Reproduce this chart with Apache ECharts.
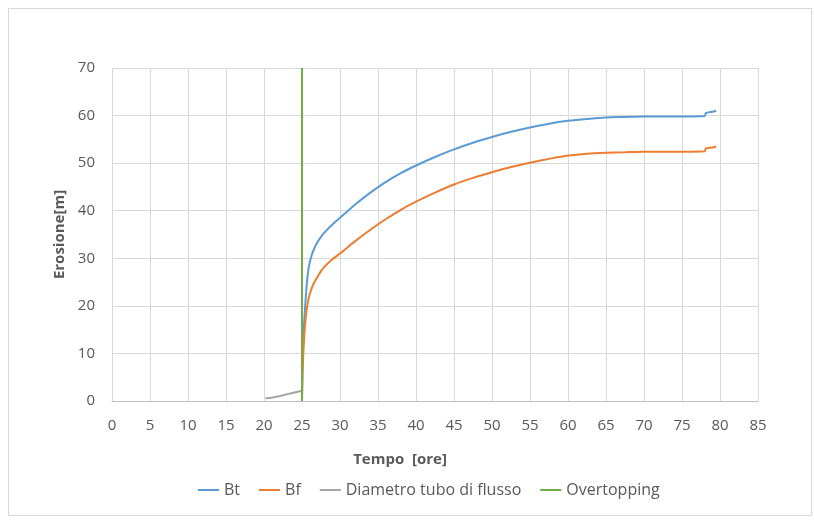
<!DOCTYPE html>
<html><head><meta charset="utf-8">
<script src="https://cdn.jsdelivr.net/npm/echarts@6/dist/echarts.min.js"></script>
<style>
html,body{margin:0;padding:0;background:#fff;}
#frame{position:absolute;left:8px;top:8px;width:804px;height:508px;border:1px solid #d9d9d9;box-sizing:border-box;}
#c{position:absolute;left:0;top:0;width:814px;height:520px;}
</style></head>
<body><div id="frame"></div><div id="c"></div>
<script>
const xTicks = [0,5,10,15,20,25,30,35,40,45,50,55,60,65,70,75,80,85];
const btX = [25.0,25.05,25.1,25.2,25.3,25.4,25.6,25.8,26.0,26.3,26.6,27.0,27.5,28.0,29.0,30.0,32.0,34.0,36.0,38.0,40.0,42.5,45.0,47.5,50.0,52.5,55.0,57.5,60.0,62.5,65.0,67.5,70.0,72.5,75.0,78.0,78.1,78.3,79.0,79.5];
const btY = [0.5,6,10,14,17,19.5,24,27.2,29.0,30.8,32.0,33.3,34.5,35.5,37.1,38.5,41.3,43.8,46.0,47.9,49.5,51.3,52.9,54.3,55.5,56.6,57.5,58.3,58.9,59.3,59.6,59.7,59.8,59.8,59.8,59.9,60.4,60.6,60.8,61.0];
const bfX = [25.0,25.05,25.1,25.2,25.4,25.6,25.8,26.0,26.3,26.6,27.0,27.5,28.0,29.0,30.0,32.0,34.0,36.0,38.0,40.0,42.5,45.0,47.5,50.0,52.5,55.0,57.5,60.0,62.5,65.0,67.5,70.0,72.5,75.0,78.0,78.1,78.3,79.0,79.5];
const bfY = [0.5,4,7,11,16,19,21.0,22.4,23.8,24.9,26.0,27.3,28.3,29.8,31.0,33.6,36.0,38.2,40.2,41.9,43.8,45.5,46.9,48.1,49.2,50.1,50.9,51.6,52.0,52.2,52.3,52.4,52.4,52.4,52.5,53.0,53.2,53.3,53.5];
const dtX = [20.2,21.0,22.0,23.0,24.0,24.9];
const dtY = [0.6,0.7,1.0,1.4,1.8,2.1];
const ovX = [25.0,25.0];
const ovY = [0,70];
const names = ['Bt','Bf','Diametro tubo di flusso','Overtopping'];
const colors = ['#5b9bd5','#ed7d31','#a5a5a5','#70ad47'];

function pairs(xs, ys){ return xs.map((x,i)=>[x,ys[i]]); }
const chart = echarts.init(document.getElementById('c'));
const font = '"Open Sans", "Noto Sans", sans-serif';
chart.setOption({
  animation:false,
  color: colors,
  textStyle:{fontFamily:font},
  grid:{left:112,right:56,top:68,bottom:119},
  legend:{bottom:17,left:193,itemWidth:21,itemHeight:2,itemGap:19,
    icon:'rect',textStyle:{color:'#595959',fontSize:16,fontFamily:font},data:names},
  xAxis:{type:'value',min:0,max:85,interval:5,
    name:'Tempo  [ore]',nameLocation:'middle',nameGap:51,
    nameTextStyle:{fontWeight:'bold',fontSize:15,color:'#595959',padding:[0,70,0,0]},
    axisLine:{lineStyle:{color:'#bfbfbf'}},axisTick:{show:false},
    axisLabel:{color:'#595959',fontSize:15,margin:17},
    splitLine:{show:true,lineStyle:{color:'#d9d9d9'}}},
  yAxis:{type:'value',min:0,max:70,interval:10,
    name:'Erosione[m]',nameLocation:'middle',nameGap:44,nameRotate:90,
    nameTextStyle:{fontWeight:'bold',fontSize:15,color:'#595959'},
    axisLine:{show:false},axisTick:{show:false},
    axisLabel:{color:'#595959',fontSize:15,margin:17},
    splitLine:{show:true,lineStyle:{color:'#d9d9d9'}}},
  series:[
    {name:names[0],type:'line',data:pairs(btX,btY),showSymbol:false,smooth:0.2,lineStyle:{width:2}},
    {name:names[1],type:'line',data:pairs(bfX,bfY),showSymbol:false,smooth:0.2,lineStyle:{width:2}},
    {name:names[2],type:'line',data:pairs(dtX,dtY),showSymbol:false,smooth:0.2,lineStyle:{width:2}},
    {name:names[3],type:'line',data:pairs(ovX,ovY),showSymbol:false,lineStyle:{width:2}}
  ]
});
</script></body></html>
